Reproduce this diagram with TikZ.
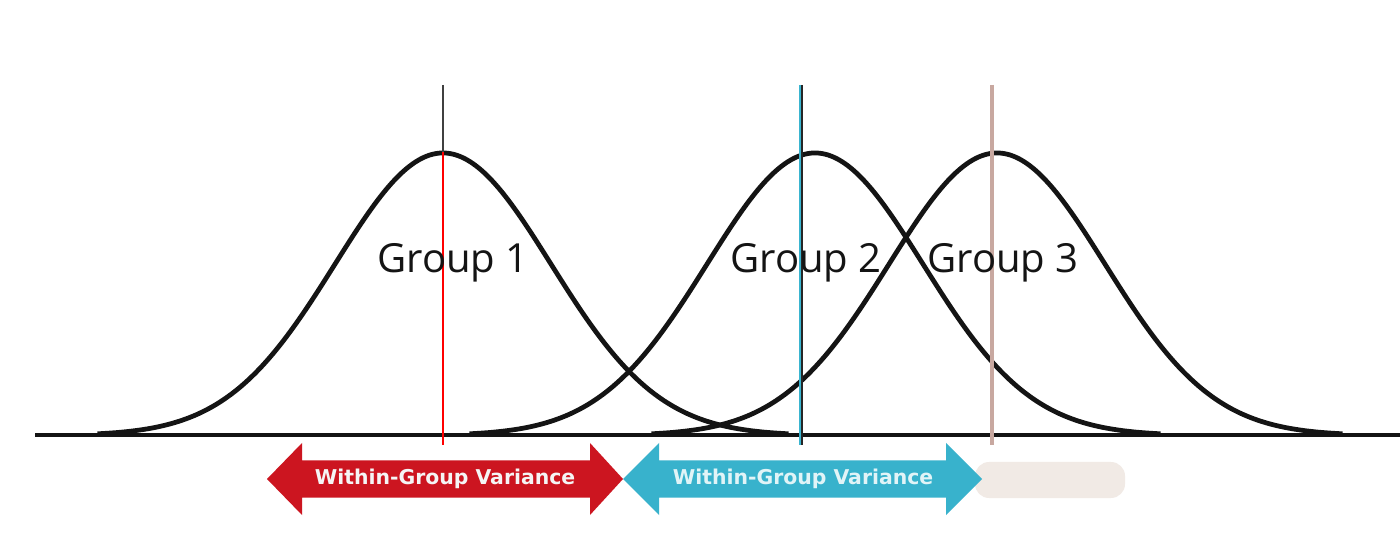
\documentclass[tikz,border=0pt]{standalone}
\usepackage{fontspec}
\setmainfont{Open Sans}
\newfontfamily\arrowfont{DejaVu Sans}
\definecolor{arrred}{HTML}{CC1520}
\definecolor{arrcyan}{HTML}{38B2CC}
\definecolor{linecyan}{HTML}{3AB5D0}
\definecolor{linetan}{HTML}{C8A8A0}
\definecolor{ghost}{HTML}{F1EAE5}
\tikzset{
  bell/.style={line width=1.35pt, black!92, line join=round},
  axisline/.style={line width=1.2pt, black!92},
  grouplabel/.style={anchor=base, inner sep=0pt, font=\fontsize{11.4}{13}\selectfont, text=black!92},
  arrowlabel/.style={inner sep=0pt, font=\arrowfont\bfseries\fontsize{5.8}{7}\selectfont},
}
\begin{document}
\begin{tikzpicture}[x=0.01cm,y=-0.01cm]
\useasboundingbox (0,0) rectangle (1400,555);
\fill[white] (0,0) rectangle (1400,555);
% bell curves
\draw[bell] plot[domain=-3.2:3.2, samples=140, smooth] ({443+108*\x},{435.5-282.5*exp(-\x*\x/2)});
\draw[bell] plot[domain=-3.2:3.2, samples=140, smooth] ({815+108*\x},{435.5-282.5*exp(-\x*\x/2)});
\draw[bell] plot[domain=-3.2:3.2, samples=140, smooth] ({997+108*\x},{435.5-282.5*exp(-\x*\x/2)});
% axis
\coordinate (axl) at (35,435);
\coordinate (axr) at (1400,435);
\draw[axisline] (axl) -- (axr);
% mean lines
\coordinate (m1t) at (443,85); \coordinate (m1p) at (443,152); \coordinate (m1b) at (443,445);
\coordinate (m2t) at (801,85); \coordinate (m2b) at (801,445);
\coordinate (m3t) at (992,85); \coordinate (m3b) at (992,445);
\draw[line width=0.6pt, black!75] (m1t) -- (m1b);
\draw[line width=0.45pt, red] (m1p) -- (m1b);
\draw[line width=0.55pt, black!85] ([xshift=0.3pt]m2t) -- ([xshift=0.3pt]m2b);
\draw[line width=0.4pt, linecyan] ([xshift=-0.3pt]m2t) -- ([xshift=-0.3pt]m2b);
\draw[line width=1.1pt, linetan] (m3t) -- (m3b);
% labels
\node[grouplabel] (g1) at (453,273) {Group 1};
\node[grouplabel] (g2) at (806,273) {Group 2};
\node[grouplabel] (g3) at (1003,273) {Group 3};
% ghost arrow
\fill[ghost, rounded corners=4pt] (975,462) rectangle (1125,498);
% red double arrow
\fill[arrred] (267,479) -- (302,443) -- (302,460.5) -- (590,460.5) -- (590,443) -- (623,479)
  -- (590,515) -- (590,497.5) -- (302,497.5) -- (302,515) -- cycle;
% cyan double arrow
\fill[arrcyan] (623,479) -- (659,443) -- (659,460.5) -- (946,460.5) -- (946,443) -- (982,479)
  -- (946,515) -- (946,497.5) -- (659,497.5) -- (659,515) -- cycle;
\node[arrowlabel, text=white!92!gray] (v1) at (445,479) {Within-Group Variance};
\node[arrowlabel, text=white!85!arrcyan] (v2) at (803,479) {Within-Group Variance};
\end{tikzpicture}
\end{document}
